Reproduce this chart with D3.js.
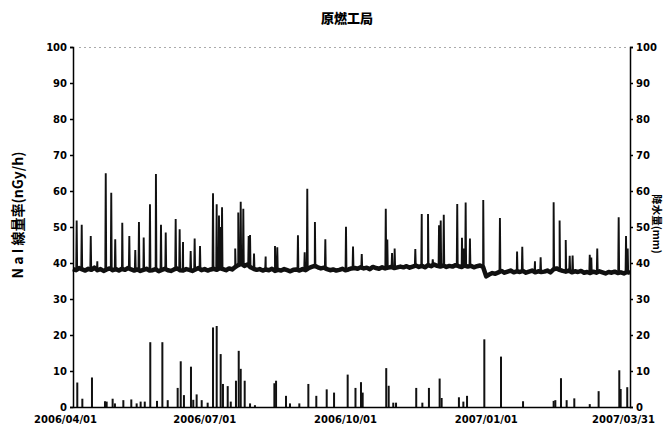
<!DOCTYPE html>
<html><head><meta charset="utf-8">
<script src="https://cdn.jsdelivr.net/npm/d3@7"></script>
<style>body{margin:0;background:#fff}svg{display:block}</style>
</head><body><svg id="c" width="665" height="438"></svg>
<script>
const title = "原燃工局";
const leftTitle = "N a I 線量率(nGy/h)";
const rightTitle = "降水量(mm)";
const yTicks = [0,10,20,30,40,50,60,70,80,90,100];
const xTickDays = [0,91,183,275,364];
const xTickLabels = ["2006/04/01","2006/07/01","2006/10/01","2007/01/01","2007/03/31"];

// NaI dose-rate baseline (nGy/h), one value every 2 days from 2006/04/01
const baseline = [
 38.3,38.0,38.6,38.2,37.9,38.4,38.1,38.7,38.0,38.3,37.8,38.2,38.5,38.0,38.3,37.9,38.4,38.1,38.6,38.2,
 37.9,38.2,37.8,38.1,38.4,37.9,38.0,38.3,37.7,38.1,38.4,38.0,37.8,38.2,38.5,38.0,37.9,38.3,38.1,37.8,38.2,38.6,38.0,38.3,37.9,38.2,
 38.4,38.1,38.6,38.3,38.0,38.5,38.2,38.9,39.4,39.8,39.2,39.6,38.8,38.4,38.1,38.3,
 37.9,38.2,38.0,38.4,37.8,38.1,37.9,38.3,38.0,37.7,38.1,38.2,37.9,38.3,38.0,38.6,38.9,39.2,38.8,38.5,38.7,38.3,38.0,38.2,37.9,38.1,38.4,38.0,38.2,38.5,
 38.6,38.4,38.8,38.5,38.7,38.3,38.9,38.6,38.4,38.8,38.5,38.7,38.9,38.6,38.8,39.0,
 38.8,39.1,38.7,39.0,39.3,38.9,39.2,38.8,39.4,39.1,39.6,39.2,39.0,39.3,38.9,
 39.2,39.0,39.4,39.1,38.9,39.3,39.0,39.2,38.8,39.1,39.3,38.9,36.3,36.8,37.2,
 37.0,37.4,37.8,37.3,37.6,37.9,37.4,37.7,37.5,37.8,37.3,37.6,37.9,37.4,37.7,37.5,
 37.6,37.9,37.4,38.2,38.5,38.1,37.8,37.6,37.9,37.4,37.7,37.5,37.8,37.3,
 37.5,37.2,37.6,37.3,37.7,37.4,37.1,37.5,37.3,37.6,37.2,37.4,37.1,37.5,37.3
];
// dose-rate peaks: day offset and peak value (nGy/h)
const spikeDay = [2.4,5.7,11.6,15.9,21.4,25.0,27.6,32.2,36.8,40.7,43.1,46.2,50.3,54.2,57.5,60.6,67.1,69.7,71.9,76.9,79.5,83.0,
 91.5,93.9,95.4,96.4,97.4,106.0,108.0,109.6,111.3,114.8,115.7,118.3,125.9,132.0,133.5,147.0,151.4,153.1,158.1,164.9,
 178.4,183.0,188.7,204.4,205.4,208.5,210.2,223.7,227.9,232.0,235.1,239.2,240.3,242.3,251.1,254.2,255.5,256.6,259.4,
 268.1,279.0,290.2,293.6,301.9,305.6,314.1,318.0,322.0,324.6,326.5,337.7,338.7,342.6,356.6,361.4,362.5];
const spikeVal = [51.8,50.6,47.5,40.5,64.9,59.5,46.6,51.2,47.5,43.6,51.4,47.1,56.3,64.7,50.6,48.5,52.2,49.4,45.8,43.3,46.8,44.7,
 59.4,56.3,53.2,50.0,55.5,44.0,54.0,57.0,55.1,47.5,47.8,42.6,41.8,44.7,44.4,47.7,43.0,60.6,51.4,46.6,
 50.1,44.6,42.5,55.1,46.5,42.8,44.0,43.9,53.6,53.6,41.0,50.5,51.8,53.4,56.4,47.0,44.0,56.8,46.8,
 57.5,52.5,43.2,44.5,40.5,41.6,56.9,51.8,46.4,42.0,42.1,42.3,41.5,44.0,52.7,47.5,44.0];
// precipitation (mm)
const rainDay = [2.8,6.1,12.4,20.9,22.0,25.9,27.4,32.9,38.1,41.6,44.2,46.9,50.5,54.9,58.4,61.9,68.4,70.4,72.5,77.1,78.6,80.8,
 84.1,88.0,91.5,93.9,96.5,98.0,101.1,103.1,106.5,108.3,109.6,112.2,115.7,118.9,131.6,132.7,139.2,141.8,147.9,153.8,
 159.0,165.8,170.6,179.5,184.6,188.2,189.3,204.7,206.3,209.3,211.1,224.3,228.3,232.6,239.6,240.9,252.2,255.1,257.5,
 268.8,279.7,294.1,314.1,315.2,318.9,322.6,327.6,337.7,343.5,357.0,357.9,362.2];
const rainVal = [6.8,2.3,8.2,1.6,1.5,2.3,1.0,1.9,2.1,1.0,1.5,1.5,18.0,1.7,18.0,1.9,5.3,12.7,3.3,11.2,2.0,3.5,
 1.9,1.2,22.1,22.5,14.7,6.4,5.8,1.5,7.3,15.6,10.6,7.3,1.0,0.5,6.6,7.3,3.1,1.0,1.0,6.4,
 3.1,4.9,4.0,9.0,5.3,6.9,4.0,10.8,5.9,1.2,1.2,5.3,1.2,5.3,7.9,2.5,2.7,1.5,3.1,
 18.8,14.0,1.6,1.7,1.9,8.0,1.9,2.4,0.8,4.4,10.2,5.0,5.5];

const font = "'DejaVu Sans', sans-serif";
const cjk = "'Noto Sans CJK JP', sans-serif";
const svg = d3.select("#c");
const x = d3.scaleLinear().domain([0,364]).range([73,630]);
const y = d3.scaleLinear().domain([0,100]).range([407,47]);

// top faint frame line
svg.append("line").attr("x1",x(0)+6).attr("x2",x(364)-4).attr("y1",y(100)+0.5).attr("y2",y(100)+0.5)
  .attr("stroke","#aaa").attr("stroke-width",1).attr("stroke-dasharray","2,3");

// title
svg.append("text").attr("x",347).attr("y",23).attr("text-anchor","middle")
  .attr("font-family",cjk).attr("font-weight","900").attr("font-size",13).text(title);

// dose-rate line
const basePts = baseline.map((v,i)=>({d:i*2,v}));
const baseAt = d => {
  const i = Math.min(Math.floor(d/2), baseline.length-2);
  const t = (d - i*2)/2;
  return baseline[i]*(1-t) + baseline[i+1]*t;
};
const pts = basePts.slice();
spikeDay.forEach((d,k)=>{
  pts.push({d:d-0.3,v:baseAt(d-0.3)});
  pts.push({d:d,v:spikeVal[k]});
  pts.push({d:d+0.3,v:baseAt(d+0.3)});
});
pts.sort((a,b)=>a.d-b.d);

const line = d3.line().x(p=>x(p.d)).y(p=>y(p.v));
svg.append("path").attr("d",line(basePts)).attr("fill","none").attr("stroke","#111").attr("stroke-width",4.5).attr("stroke-linejoin","round");
svg.append("path").attr("d",line(pts)).attr("fill","none").attr("stroke","#111").attr("stroke-width",1.9).attr("stroke-linejoin","miter");

// rain bars
svg.append("g").selectAll("rect").data(rainDay).join("rect")
  .attr("x",d=>x(d)-1).attr("width",2)
  .attr("y",(d,i)=>y(rainVal[i])).attr("height",(d,i)=>y(0)-y(rainVal[i]))
  .attr("fill","#111");

// axes
const styleAxis = g => {
  g.selectAll("path,line").attr("stroke","#000").attr("stroke-width",1.5);
  g.selectAll("text").attr("font-family",font).attr("font-weight","bold").attr("font-size",10).attr("fill","#000");
};
svg.append("g").attr("transform",`translate(${x(0)},0)`)
  .call(d3.axisLeft(y).tickValues(yTicks).tickSize(3).tickPadding(3)).call(styleAxis);
svg.append("g").attr("transform",`translate(${x(364)},0)`)
  .call(d3.axisRight(y).tickValues(yTicks).tickSize(3).tickPadding(3)).call(styleAxis);
const xa = svg.append("g").attr("transform",`translate(0,${y(0)})`)
  .call(d3.axisBottom(x).tickValues(xTickDays).tickFormat((d,i)=>xTickLabels[i]).tickSize(0).tickSizeOuter(0).tickPadding(9))
  .call(styleAxis);
xa.selectAll(".tick text").attr("dx",(d,i)=> i===xTickDays.length-1 ? -7 : -8);

// axis titles
svg.append("text").attr("transform","translate(23,215) rotate(-90)").attr("text-anchor","middle")
  .attr("font-family",cjk).attr("font-weight","bold").attr("font-size",14).text(leftTitle);
svg.append("text").attr("transform","translate(653,224) rotate(90)").attr("text-anchor","middle")
  .attr("font-family",cjk).attr("font-weight","bold").attr("font-size",10.5).text(rightTitle);
</script></body></html>
